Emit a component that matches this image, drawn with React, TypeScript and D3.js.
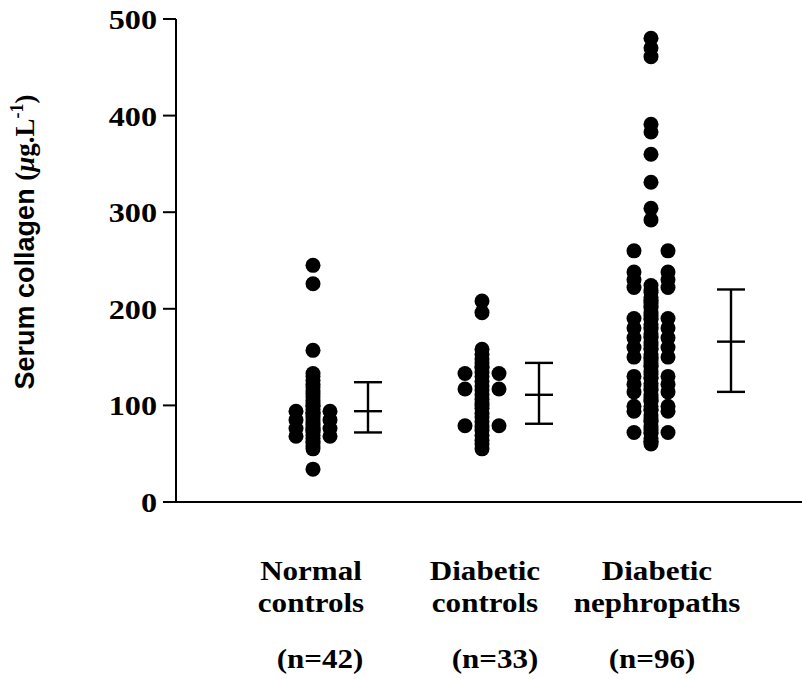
import React from 'react';
import * as d3 from 'd3';

// Study groups and their axis captions
const groups = ['Normal controls', 'Diabetic controls', 'Diabetic nephropaths'];
const captionLines = [
  ['Normal', 'controls'],
  ['Diabetic', 'controls'],
  ['Diabetic', 'nephropaths'],
];
const sampleSizes = ['(n=42)', '(n=33)', '(n=96)'];
const yTicks = [0, 100, 200, 300, 400, 500];

// Individual serum collagen values (µg/L), split by dot column within each group
const normalCentre = [245, 226, 157, 133, 130, 126, 122, 119, 115, 112, 109, 105, 102, 100, 99, 96, 93, 92, 90, 88, 85, 82, 80, 77, 75, 74, 72, 69, 66, 63, 61, 58, 55, 34];
const normalLeft = [94, 85, 76, 68];
const normalRight = [94, 85, 76, 68];

const diabeticCentre = [208, 196, 158, 153, 148, 144, 140, 139, 134, 130, 125, 120, 116, 111, 106, 102, 100, 97, 92, 88, 83, 78, 74, 69, 64, 60, 55];
const diabeticLeft = [133, 117, 79];
const diabeticRight = [133, 117, 79];

const nephroCentre = [480, 470, 461, 391, 383, 360, 331, 304, 292,
  224, 219, 217, 212, 209, 208, 206, 203, 201, 196, 193, 190, 189, 184, 181, 179, 174, 171, 170, 165, 162, 159, 158, 153, 150, 149, 147, 144, 141, 140, 135, 132, 129, 128, 123, 120, 117, 116, 111, 108, 105, 104, 99, 96, 95, 90, 87, 84, 83, 78, 75, 72, 71, 66, 63, 62, 60];
const nephroLeft = [260, 238, 230, 222, 190, 180, 170, 160, 150, 130, 122, 114, 99, 94, 72];
const nephroRight = [260, 238, 230, 222, 190, 180, 170, 160, 150, 130, 122, 114, 99, 94, 72];

// Group summary: mean with upper / lower whisker values
const means = [94, 111, 166];
const upperVals = [124, 144, 220];
const lowerVals = [72, 81, 114];

const columns = [
  [normalLeft, normalCentre, normalRight],
  [diabeticLeft, diabeticCentre, diabeticRight],
  [nephroLeft, nephroCentre, nephroRight],
];

// Layout
const W = 802;
const H = 679;
const axisX = 176;
const axisY = 502;
const colGap = 17;
const dotR = 7.5;
const summaryOffset = [55, 57, 80];
const capHalf = 14;
const captionShift = [-2, 3, 6];
const nShift = [7, 13, 1];
const stretch = 1.15;
const serif = "'Liberation Serif', 'Times New Roman', serif";
const sans = "'Liberation Sans', Arial, sans-serif";

export default function App() {
  const y = d3.scaleLinear().domain([0, 500]).range([axisY, 19]);
  const x = d3.scalePoint<string>().domain(groups).range([313, 651]);

  const dots: { cx: number; cy: number; key: string }[] = [];
  columns.forEach((cols, gi) => {
    cols.forEach((vals, ci) => {
      vals.forEach((v, vi) => {
        dots.push({
          cx: (x(groups[gi]) as number) + (ci - 1) * colGap,
          cy: y(v),
          key: `${gi}-${ci}-${vi}`,
        });
      });
    });
  });

  return (
    <svg
      width={W}
      height={H}
      style={{ position: 'absolute', left: 0, top: 0, background: '#fff' }}
    >
      {/* axes */}
      <line x1={axisX} x2={axisX} y1={y(500)} y2={axisY + 1} stroke="#000" strokeWidth={2} />
      <line x1={axisX - 1} x2={W} y1={axisY} y2={axisY} stroke="#000" strokeWidth={2.2} />
      {yTicks.map((t) => (
        <g key={t}>
          <line x1={axisX - 13} x2={axisX} y1={y(t)} y2={y(t)} stroke="#000" strokeWidth={2} />
          <text
            transform={`translate(${axisX - 19},${y(t) + 10}) scale(${stretch},1)`}
            textAnchor="end"
            fontFamily={serif}
            fontWeight="bold"
            fontSize={28}
          >
            {t}
          </text>
        </g>
      ))}

      {/* y axis title */}
      <text
        transform={`translate(34,242) rotate(-90)`}
        textAnchor="middle"
        fontFamily={sans}
        fontWeight="bold"
        fontSize={27}
      >
        Serum collagen{' '}
        <tspan fontFamily={serif}>(</tspan>
        <tspan fontFamily={serif} fontStyle="italic">μ</tspan>
        <tspan fontFamily={serif}>g.L</tspan>
        <tspan fontFamily={serif} fontSize={18} dy={-11}>-1</tspan>
        <tspan fontFamily={serif} dy={11}>)</tspan>
      </text>

      {/* individual values */}
      {dots.map((d) => (
        <circle key={d.key} cx={d.cx} cy={d.cy} r={dotR} fill="#000" />
      ))}

      {/* mean and spread markers */}
      {groups.map((g, i) => {
        const cx = (x(g) as number) + summaryOffset[i];
        return (
          <g key={g} stroke="#000" strokeWidth={2.4}>
            <line x1={cx} x2={cx} y1={y(upperVals[i])} y2={y(lowerVals[i])} />
            <line x1={cx - capHalf} x2={cx + capHalf} y1={y(upperVals[i])} y2={y(upperVals[i])} />
            <line x1={cx - capHalf} x2={cx + capHalf} y1={y(means[i])} y2={y(means[i])} />
            <line x1={cx - capHalf} x2={cx + capHalf} y1={y(lowerVals[i])} y2={y(lowerVals[i])} />
          </g>
        );
      })}

      {/* group captions */}
      {groups.map((g, i) => {
        const cx = (x(g) as number) + captionShift[i];
        return (
          <g key={`cap-${g}`} fontFamily={serif} fontWeight="bold" fontSize={27}>
            {captionLines[i].map((line, li) => (
              <text
                key={line + li}
                transform={`translate(${cx},${580 + li * 32}) scale(${stretch},1)`}
                textAnchor="middle"
              >
                {line}
              </text>
            ))}
            <text
              transform={`translate(${(x(g) as number) + nShift[i]},668) scale(${stretch},1)`}
              textAnchor="middle"
            >
              {sampleSizes[i]}
            </text>
          </g>
        );
      })}
    </svg>
  );
}
